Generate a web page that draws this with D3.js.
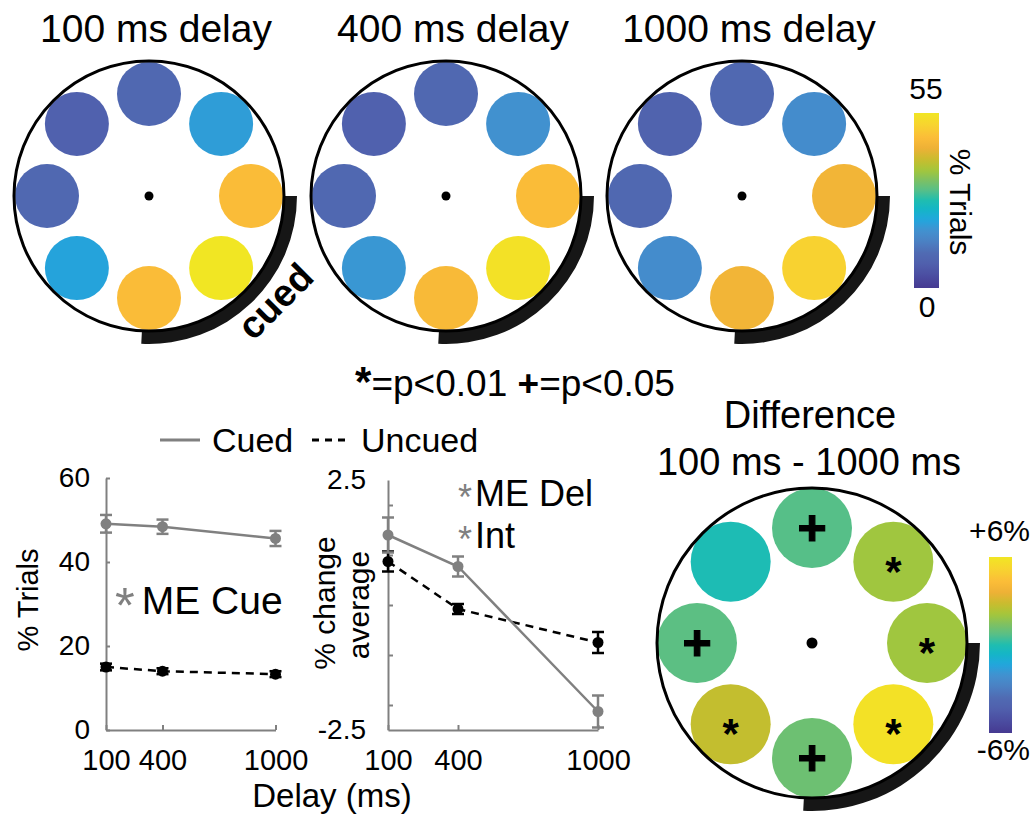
<!DOCTYPE html>
<html>
<head>
<meta charset="utf-8">
<script src="https://cdn.jsdelivr.net/npm/d3@7"></script>
<style>
  html, body { margin: 0; padding: 0; background: #fff; }
  svg { display: block; }
</style>
</head>
<body>
<svg id="fig" width="1031" height="814"></svg>
<script>
// ---- Data -------------------------------------------------------------
// Target locations, degrees clockwise from 3 o'clock: R, BR, B, BL, L, TL, T, TR
const locationAngles = [0, 45, 90, 135, 180, 225, 270, 315];

// % of trials ending at each location, per delay
const delayTitles = ["100 ms delay", "400 ms delay", "1000 ms delay"];
const trials100  = [47, 55, 47, 21, 10, 8, 10, 20];
const trials400  = [47, 54, 46.5, 19, 10, 8, 10, 18];
const trials1000 = [45, 51, 45, 17, 10, 8.5, 10, 17];

// Difference 100 ms - 1000 ms (%), with significance marks
const diffValues = [2.0, 5.8, 1.1, 2.7, 0.8, -0.1, 0.7, 2.0];
const diffMarks  = ["*", "*", "+", "*", "+", "", "+", "*"];

// Line plots
const delays = [100, 400, 1000];
const cuedPct = [49.1, 48.4, 45.6];
const cuedPctErr = [2.1, 1.7, 1.8];
const uncuedPct = [15.0, 14.0, 13.3];
const uncuedPctErr = [0.8, 0.7, 0.7];
const cuedChange = [1.4, 0.77, -2.13];
const cuedChangeErr = [0.35, 0.2, 0.32];
const uncuedChange = [0.87, -0.08, -0.75];
const uncuedChangeErr = [0.2, 0.1, 0.21];

const pctTicks = [0, 20, 40, 60];
const changeTicks = [-2.5, -2, -1, 0, 1, 2, 2.5];

// Colormap (parula-like)
const cmapStops  = [0, .06, .14, .20, .27, .33, .39, .45, .50, .56, .62, .67, .73, .80, .86, .93, 1];
const cmapColors = ["#463a91", "#4a4a9f", "#5060ad", "#506bb3", "#4a82c4", "#4192d0", "#21a6dd",
                    "#14b6c6", "#1fbdb0", "#58bf87", "#80c160", "#a2c63d", "#c6bd2e", "#eeb136",
                    "#fbbd38", "#f8d330", "#f1e623"];

// ---- Setup ------------------------------------------------------------
const FONT = '"Liberation Sans", Arial, Helvetica, sans-serif';
const svg = d3.select("#fig").style("font-family", FONT);

const cmap = d3.scaleLinear().domain(cmapStops).range(cmapColors).interpolate(d3.interpolateRgb).clamp(true);
const trialsToT = d3.scaleLinear().domain([0, 55]).range([0, 1]);
const diffToT = d3.scaleLinear().domain([-6, 6]).range([0, 1]);
const trialColor = v => cmap(trialsToT(v));
const diffColor = v => cmap(diffToT(v));

// location degrees (0 = right, clockwise) -> d3 radial angle (0 = up, clockwise)
const angleScale = d3.scaleLinear().domain([0, 360]).range([Math.PI / 2, Math.PI / 2 + 2 * Math.PI]);

function drawDial(cx, cy, geom, values, colorOf, marks) {
  const g = svg.append("g").attr("transform", `translate(${cx},${cy})`);
  // thick arc marking the cued quadrant
  g.append("path")
    .attr("d", d3.arc()({
      innerRadius: geom.R - 1, outerRadius: geom.R + geom.arcW,
      startAngle: angleScale(0), endAngle: angleScale(93)
    }))
    .attr("fill", "#161616");
  g.append("circle").attr("r", geom.R).attr("fill", "#fff");
  g.selectAll("circle.loc").data(values).join("circle")
    .attr("class", "loc")
    .attr("cx", (d, i) => d3.pointRadial(angleScale(locationAngles[i]), geom.ring)[0])
    .attr("cy", (d, i) => d3.pointRadial(angleScale(locationAngles[i]), geom.ring)[1])
    .attr("r", geom.dotR)
    .attr("fill", d => colorOf(d));
  g.append("circle").attr("r", geom.R).attr("fill", "none")
    .attr("stroke", "#000").attr("stroke-width", 3);
  g.append("circle").attr("r", geom.fixR).attr("fill", "#000");
  if (marks) {
    g.selectAll("text.mark").data(marks).join("text")
      .attr("class", "mark")
      .attr("x", (d, i) => d3.pointRadial(angleScale(locationAngles[i]), geom.ring)[0])
      .attr("y", (d, i) => d3.pointRadial(angleScale(locationAngles[i]), geom.ring)[1] + (d === "*" ? 24 : 17))
      .attr("text-anchor", "middle")
      .attr("font-weight", "bold")
      .attr("font-size", d => d === "*" ? 42 : 50)
      .attr("stroke", "#000").attr("stroke-width", d => d === "+" ? 1.2 : 0)
      .text(d => d);
  }
  return g;
}

// ---- Top row: three delays ---------------------------------------------
const topGeom = { R: 135, ring: 102, dotR: 32, arcW: 13, fixR: 4.5 };
const topCenters = [149, 446, 742];
const topData = [trials100, trials400, trials1000];
topData.forEach((vals, k) => {
  drawDial(topCenters[k], 196, topGeom, vals, trialColor, null);
  svg.append("text")
    .attr("x", topCenters[k] + 7).attr("y", 42)
    .attr("text-anchor", "middle").attr("font-size", 39)
    .text(delayTitles[k]);
});

// "cued" label along the arc of the first dial
svg.append("text")
  .attr("transform", "translate(276,302) rotate(-45)")
  .attr("y", 12)
  .attr("text-anchor", "middle")
  .attr("font-size", 38).attr("font-weight", "bold")
  .text("cued");

// ---- Colorbars -----------------------------------------------------------
const defs = svg.append("defs");
const grad = defs.append("linearGradient").attr("id", "cbar")
  .attr("x1", 0).attr("y1", 1).attr("x2", 0).attr("y2", 0);
grad.selectAll("stop").data(d3.range(0, 1.0001, 0.02)).join("stop")
  .attr("offset", d => d).attr("stop-color", d => cmap(d));

svg.append("rect").attr("x", 914).attr("y", 113).attr("width", 25).attr("height", 175)
  .attr("fill", "url(#cbar)");
svg.append("text").attr("x", 926).attr("y", 99).attr("text-anchor", "middle")
  .attr("font-size", 30).text("55");
svg.append("text").attr("x", 927).attr("y", 317).attr("text-anchor", "middle")
  .attr("font-size", 30).text("0");
svg.append("text").attr("transform", "translate(950,202) rotate(90)")
  .attr("text-anchor", "middle").attr("font-size", 30).text("% Trials");

svg.append("rect").attr("x", 989).attr("y", 557).attr("width", 23).attr("height", 176)
  .attr("fill", "url(#cbar)");
svg.append("text").attr("x", 1030).attr("y", 541).attr("text-anchor", "end")
  .attr("font-size", 30).text("+6%");
svg.append("text").attr("x", 1030).attr("y", 760).attr("text-anchor", "end")
  .attr("font-size", 30).text("-6%");

// ---- Significance key ------------------------------------------------------
const key = svg.append("text").attr("x", 515).attr("y", 396)
  .attr("text-anchor", "middle").attr("font-size", 37);
key.append("tspan").attr("font-weight", "bold").attr("font-size", 42).text("*");
key.append("tspan").text("=p<0.01 ");
key.append("tspan").attr("font-weight", "bold").text("+");
key.append("tspan").text("=p<0.05");

// ---- Difference dial ---------------------------------------------------------
svg.append("text").attr("x", 810).attr("y", 428).attr("text-anchor", "middle")
  .attr("font-size", 38).text("Difference");
svg.append("text").attr("x", 809).attr("y", 475).attr("text-anchor", "middle")
  .attr("font-size", 38).text("100 ms - 1000 ms");
drawDial(812, 643, { R: 155, ring: 115, dotR: 40, arcW: 13, fixR: 5.5 }, diffValues, diffColor, diffMarks);

// ---- Line plots ---------------------------------------------------------------
const GRAY = "#808080";
const delayFormat = d3.format("d");

function styleAxis(g, fontSize) {
  g.select(".domain").attr("stroke", GRAY).attr("stroke-width", 2);
  g.selectAll(".tick line").attr("stroke", GRAY).attr("stroke-width", 2);
  g.selectAll(".tick text").attr("fill", "#000").attr("font-size", fontSize)
    .attr("font-family", FONT);
}

function drawSeries(x, y, vals, errs, color, dashed) {
  const pts = delays.map((d, i) => [d, vals[i], errs[i]]);
  svg.append("path")
    .attr("d", d3.line().x(p => x(p[0])).y(p => y(p[1]))(pts))
    .attr("fill", "none").attr("stroke", color).attr("stroke-width", 2.5)
    .attr("stroke-dasharray", dashed ? "8,6" : null);
  const eb = svg.append("g").attr("stroke", color).attr("stroke-width", 2.5);
  pts.forEach(p => {
    const xx = x(p[0]);
    eb.append("line").attr("x1", xx).attr("x2", xx).attr("y1", y(p[1] - p[2])).attr("y2", y(p[1] + p[2]));
    eb.append("line").attr("x1", xx - 6).attr("x2", xx + 6).attr("y1", y(p[1] - p[2])).attr("y2", y(p[1] - p[2]));
    eb.append("line").attr("x1", xx - 6).attr("x2", xx + 6).attr("y1", y(p[1] + p[2])).attr("y2", y(p[1] + p[2]));
  });
  svg.append("g").selectAll("circle").data(pts).join("circle")
    .attr("cx", p => x(p[0])).attr("cy", p => y(p[1])).attr("r", 5.5).attr("fill", color);
}

// gray asterisk + black label on one line
function effectLabel(x, y, label, size, starScale, shift, gap) {
  const t = svg.append("text").attr("x", x).attr("y", y).attr("font-size", size);
  t.append("tspan").attr("fill", GRAY).attr("font-size", size * starScale).attr("dy", shift).text("*");
  t.append("tspan").attr("dx", gap).attr("dy", -shift).text(label);
}

// Left: % trials at cued vs uncued locations
const xA = d3.scaleLinear().domain([100, 1000]).range([106, 275.5]);
const yA = d3.scaleLinear().domain([0, 60]).range([730, 478]);
const axA_y = svg.append("g").attr("transform", "translate(106,0)")
  .call(d3.axisLeft(yA).tickValues(pctTicks).tickSize(-4).tickSizeOuter(0).tickPadding(16));
styleAxis(axA_y, 28);
const axA_x = svg.append("g").attr("transform", "translate(0,730)")
  .call(d3.axisBottom(xA).tickValues(delays).tickFormat(delayFormat)
    .tickSize(-5).tickSizeOuter(0).tickPadding(19));
styleAxis(axA_x, 29);
drawSeries(xA, yA, uncuedPct, uncuedPctErr, "#000", true);
drawSeries(xA, yA, cuedPct, cuedPctErr, GRAY, false);

svg.append("text").attr("transform", "translate(38,600) rotate(-90)")
  .attr("text-anchor", "middle").attr("font-size", 29).text("% Trials");
effectLabel(115, 614, "ME Cue", 39, 1.3, 9, 7);

// Middle: % change from average
const xB = d3.scaleLinear().domain([100, 1000]).range([388, 598]);
const yB = d3.scaleLinear().domain([-2.5, 2.5]).range([730, 480]);
const axB_y = svg.append("g").attr("transform", "translate(388,0)")
  .call(d3.axisLeft(yB).tickValues(changeTicks).tickSize(-5).tickSizeOuter(0).tickPadding(22)
    .tickFormat(d => Math.abs(d) === 2.5 ? String(d) : ""));
styleAxis(axB_y, 28);
axB_y.selectAll(".tick line").filter(d => Math.abs(d) === 2.5).remove();
const axB_x = svg.append("g").attr("transform", "translate(0,730)")
  .call(d3.axisBottom(xB).tickValues(delays).tickFormat(delayFormat)
    .tickSize(-5).tickSizeOuter(0).tickPadding(19));
styleAxis(axB_x, 29);
drawSeries(xB, yB, uncuedChange, uncuedChangeErr, "#000", true);
drawSeries(xB, yB, cuedChange, cuedChangeErr, GRAY, false);

svg.append("text").attr("transform", "translate(335,603) rotate(-90)")
  .attr("text-anchor", "middle").attr("font-size", 30).text("% change");
svg.append("text").attr("transform", "translate(369,605) rotate(-90)")
  .attr("text-anchor", "middle").attr("font-size", 30).text("average");

effectLabel(458, 506, "ME Del", 36, 1.0, 4, 3);
effectLabel(458, 548, "Int", 36, 1.0, 4, 3);

svg.append("text").attr("x", 332).attr("y", 807).attr("text-anchor", "middle")
  .attr("font-size", 33).text("Delay (ms)");

// Legend
svg.append("line").attr("x1", 160).attr("x2", 200).attr("y1", 440).attr("y2", 440)
  .attr("stroke", GRAY).attr("stroke-width", 3);
svg.append("text").attr("x", 212).attr("y", 452).attr("font-size", 34).text("Cued");
svg.append("line").attr("x1", 312).attr("x2", 349).attr("y1", 440).attr("y2", 440)
  .attr("stroke", "#000").attr("stroke-width", 3).attr("stroke-dasharray", "7,6");
svg.append("text").attr("x", 361).attr("y", 452).attr("font-size", 34).text("Uncued");
</script>
</body>
</html>
